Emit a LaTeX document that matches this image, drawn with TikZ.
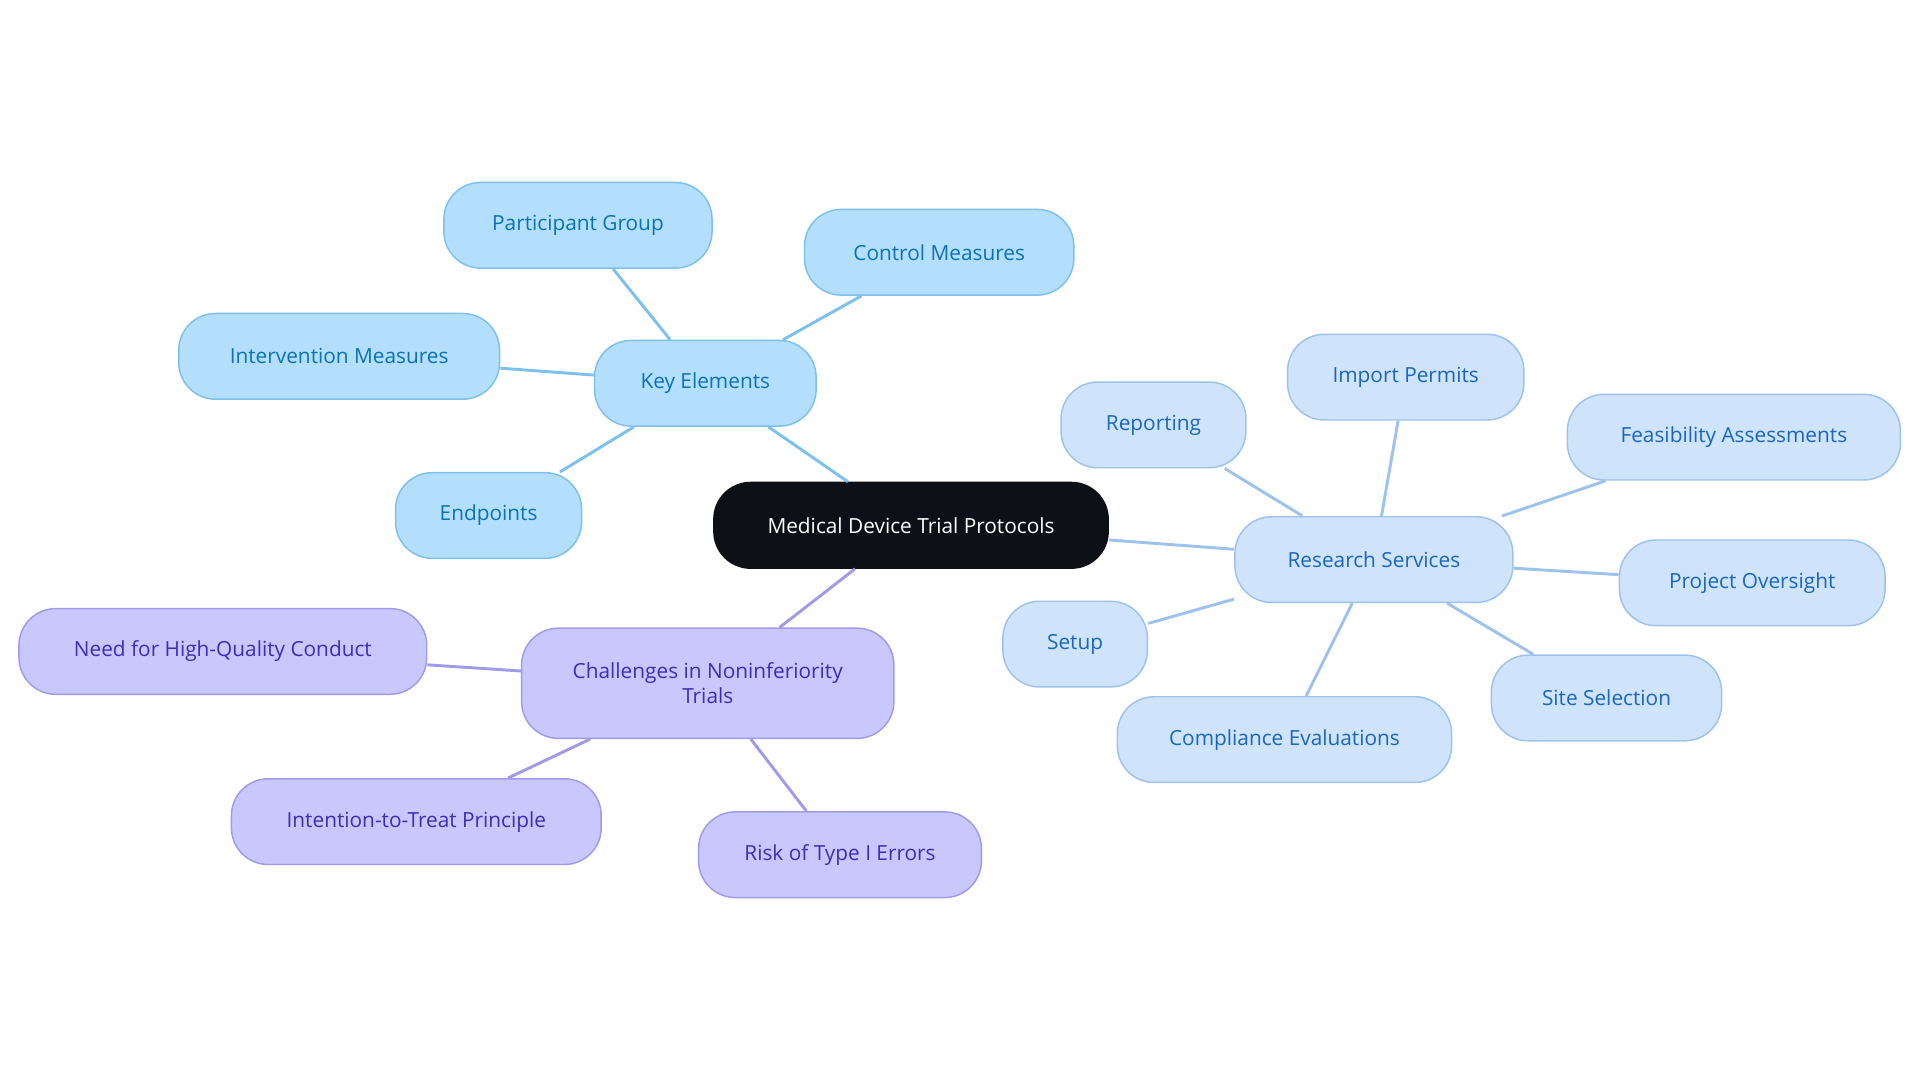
\documentclass[tikz,border=0pt]{standalone}
\usepackage{fontspec}
\setmainfont{Open Sans}
\definecolor{bF}{HTML}{B3DFFC}\definecolor{bD}{HTML}{7CC0EE}\definecolor{bT}{HTML}{0B72B8}
\definecolor{lF}{HTML}{CFE3FB}\definecolor{lD}{HTML}{9DC3EC}\definecolor{lT}{HTML}{1A67C0}
\definecolor{pF}{HTML}{C8C8FE}\definecolor{pD}{HTML}{A09BE8}\definecolor{pT}{HTML}{3A2FB8}
\definecolor{cF}{HTML}{0D1117}
\begin{document}
\begin{tikzpicture}[x=0.5pt,y=-0.5pt,
 box/.style={rectangle,rounded corners=15pt,draw,line width=0.6pt,font=\fontsize{8.5}{10}\selectfont,minimum height=35pt,inner sep=0pt,align=center},
 bn/.style={box,fill=bF,draw=bD,text=bT},
 ln/.style={box,fill=lF,draw=lD,text=lT},
 pn/.style={box,fill=pF,draw=pD,text=pT},
 be/.style={draw=bD,line width=1.2pt},
 le/.style={draw=lD,line width=1.2pt},
 pe/.style={draw=pD,line width=1.2pt}]
\useasboundingbox (0,0) rectangle (1568,884);
\node[box,fill=cF,draw=cF,text=white,minimum width=161pt] (c) at (744,429) {Medical Device Trial Protocols};
\node[bn,minimum width=90.5pt] (k) at (576,313) {Key Elements};
\node[bn,minimum width=109.5pt] (k1) at (472,184) {Participant Group};
\node[bn,minimum width=110pt] (k2) at (767,206) {Control Measures};
\node[bn,minimum width=131pt] (k3) at (277,291) {Intervention Measures};
\node[bn,minimum width=76pt] (k4) at (399,421) {Endpoints};
\node[ln,minimum width=113.5pt] (r) at (1122,457) {Research Services};
\node[ln,minimum width=75.5pt] (r1) at (942,347) {Reporting};
\node[ln,minimum width=96.5pt] (r2) at (1148,308) {Import Permits};
\node[ln,minimum width=136pt] (r3) at (1416,357) {Feasibility Assessments};
\node[ln,minimum width=108.5pt] (r4) at (1431,476) {Project Oversight};
\node[ln,minimum width=94pt] (r5) at (1312,570) {Site Selection};
\node[ln,minimum width=136.5pt] (r6) at (1049,604) {Compliance Evaluations};
\node[ln,minimum width=59pt] (r7) at (878,526) {Setup};
\node[pn,minimum width=152pt,minimum height=45pt] (p) at (578,558) {Challenges in Noninferiority\\Trials};
\node[pn,minimum width=166.5pt] (p1) at (182,532) {Need for High-Quality Conduct};
\node[pn,minimum width=151pt] (p2) at (340,671) {Intention-to-Treat Principle};
\node[pn,minimum width=115.5pt] (p3) at (686,698) {Risk of Type I Errors};
\draw[be] (c) -- (k);
\foreach \n in {k1,k2,k3,k4} \draw[be] (k) -- (\n);
\draw[le] (c) -- (r);
\foreach \n in {r1,r2,r3,r4,r5,r6,r7} \draw[le] (r) -- (\n);
\draw[pe] (c) -- (p);
\foreach \n in {p1,p2,p3} \draw[pe] (p) -- (\n);
\end{tikzpicture}
\end{document}
